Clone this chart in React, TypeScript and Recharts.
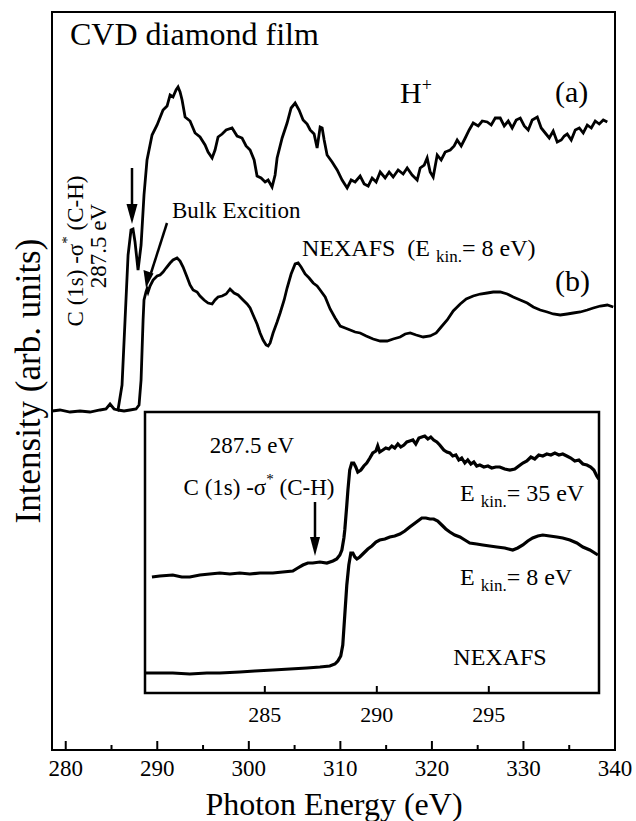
import { LineChart, Line, XAxis, YAxis, ReferenceArea } from "recharts";

// main panel, curve (a): H+ treated film
const energyA = [
  278.5, 279.37, 280.47, 281.56, 282.65, 283.75, 284.4, 284.84, 285.28, 285.71,
  286.15, 286.48, 286.81, 287.13, 287.35, 287.57, 287.9, 288.23, 288.55, 288.88,
  289.43, 289.98, 290.63, 291.07, 291.4, 291.72, 292.05, 292.27, 292.49, 292.71,
  293.04, 293.58, 294.13, 294.67, 295.22, 295.55, 295.99, 296.31, 296.64, 297.08,
  297.52, 298.17, 298.72, 299.26, 299.7, 300.14, 300.58, 300.9, 301.34, 301.78,
  302.11, 302.54, 302.87, 303.09, 303.64, 304.18, 304.62, 305.06, 305.49, 305.93,
  306.37, 306.7, 307.13, 307.46, 307.79, 308.01, 308.23, 308.55, 309.1, 309.65,
  310.19, 310.74, 311.18, 311.61, 312.16, 312.6, 313.04, 313.47, 313.91, 314.35,
  314.89, 315.33, 315.77, 316.31, 316.86, 317.3, 317.84, 318.39, 318.72, 319.16,
  319.48, 319.81, 320.14, 320.58, 321.01, 321.45, 322.0, 322.43, 322.76, 323.2,
  323.64, 324.07, 324.51, 325.06, 325.5, 326.04, 326.48, 326.92, 327.46, 327.9,
  328.34, 328.77, 329.21, 329.65, 330.09, 330.52, 330.96, 331.51, 331.94, 332.38,
  332.82, 333.25, 333.69, 334.13, 334.46, 334.78, 335.22, 335.66, 336.1, 336.53,
  336.97, 337.41, 337.84, 338.28, 338.72, 339.16,
];
const intensityA = [
  3.39, 3.4, 3.38, 3.39, 3.38, 3.4, 3.41, 3.46, 3.41, 3.4,
  3.65, 4.3, 4.95, 5.2, 5.21, 5.08, 4.8, 5.05, 5.55, 5.9,
  6.15, 6.25, 6.4, 6.44, 6.55, 6.53, 6.6, 6.63, 6.58, 6.5,
  6.33, 6.29, 6.17, 6.13, 6.05, 5.98, 5.92, 6.0, 6.13, 6.16,
  6.2, 6.22, 6.14, 6.12, 6.04, 6.0, 5.9, 5.74, 5.72, 5.68,
  5.7, 5.63, 5.75, 5.92, 6.12, 6.27, 6.42, 6.47, 6.4, 6.3,
  6.26, 6.2, 6.16, 6.02, 6.23, 6.22, 6.1, 5.95, 5.88, 5.8,
  5.7, 5.62, 5.7, 5.68, 5.74, 5.66, 5.64, 5.72, 5.68, 5.78,
  5.72, 5.78, 5.73, 5.8, 5.76, 5.82, 5.75, 5.7, 5.82, 5.85,
  5.92, 5.78, 5.73, 5.95, 5.9, 5.98, 6.0, 6.04, 6.1, 6.04,
  6.12, 6.2, 6.27, 6.24, 6.29, 6.28, 6.25, 6.32, 6.32, 6.24,
  6.29, 6.22, 6.3, 6.32, 6.24, 6.2, 6.3, 6.33, 6.22, 6.17,
  6.12, 6.19, 6.08, 6.1, 6.14, 6.16, 6.1, 6.2, 6.22, 6.17,
  6.25, 6.22, 6.29, 6.26, 6.3, 6.28,
];

// main panel, curve (b): NEXAFS, E kin = 8 eV
const energyB = [
  285.71, 286.37, 287.02, 287.68, 288.01, 288.23, 288.34, 288.45, 288.55, 288.77,
  288.88, 288.99, 289.21, 289.54, 289.98, 290.3, 290.63, 290.96, 291.4, 291.72,
  292.16, 292.49, 292.82, 293.25, 293.58, 293.91, 294.35, 294.67, 295.11, 295.55,
  295.99, 296.31, 296.64, 297.08, 297.52, 297.95, 298.39, 298.83, 299.37, 299.81,
  300.14, 300.47, 300.9, 301.23, 301.56, 301.89, 302.11, 302.33, 302.65, 303.09,
  303.42, 303.86, 304.18, 304.62, 305.06, 305.39, 305.71, 306.15, 306.59, 307.03,
  307.46, 307.79, 308.34, 308.88, 309.43, 309.98, 310.52, 311.07, 311.61, 312.16,
  312.82, 313.58, 314.35, 315.11, 315.77, 316.53, 317.08, 317.63, 318.28, 319.05,
  319.81, 320.47, 321.01, 321.67, 322.33, 323.09, 323.75, 324.51, 325.28, 326.04,
  326.7, 327.46, 328.23, 328.88, 329.65, 330.41, 331.07, 331.83, 332.6, 333.25,
  334.02, 334.78, 335.44, 336.21, 336.97, 337.63, 338.39, 339.16, 339.81,
];
const intensityB = [
  3.4, 3.39, 3.4, 3.41, 3.45, 3.7, 4.0, 4.3, 4.5, 4.58,
  4.61, 4.58, 4.64, 4.7, 4.74, 4.75, 4.78, 4.82, 4.87, 4.9,
  4.92, 4.89, 4.83, 4.73, 4.65, 4.6, 4.58, 4.54, 4.5, 4.47,
  4.46, 4.5, 4.53, 4.54, 4.56, 4.61, 4.57, 4.55, 4.5, 4.46,
  4.42, 4.35, 4.26, 4.17, 4.1, 4.05, 4.04, 4.07, 4.17, 4.28,
  4.37, 4.5, 4.62, 4.76, 4.86, 4.87, 4.83, 4.76, 4.72, 4.67,
  4.64, 4.6, 4.53, 4.41, 4.32, 4.24, 4.22, 4.2, 4.18, 4.17,
  4.14, 4.11, 4.09, 4.09, 4.11, 4.13, 4.16, 4.17, 4.15, 4.13,
  4.14, 4.17, 4.23, 4.3, 4.39, 4.46, 4.51, 4.54, 4.56, 4.57,
  4.58, 4.58, 4.56, 4.53, 4.5, 4.47, 4.43, 4.4, 4.38, 4.36,
  4.35, 4.36, 4.37, 4.38, 4.4, 4.42, 4.44, 4.45, 4.43,
];

// inset, E kin = 35 eV
const energyHi = [
  279.96, 280.31, 280.89, 281.29, 281.65, 282.1, 282.54, 282.99, 283.44, 283.88,
  284.33, 284.78, 285.36, 285.8, 286.25, 286.47, 286.7, 286.92, 287.14, 287.46,
  287.77, 288.04, 288.21, 288.35, 288.44, 288.53, 288.57, 288.66, 288.71, 288.79,
  288.88, 288.97, 289.06, 289.15, 289.29, 289.42, 289.55, 289.69, 289.82, 289.96,
  290.04, 290.13, 290.27, 290.4, 290.54, 290.67, 290.8, 290.94, 291.07, 291.21,
  291.34, 291.47, 291.61, 291.74, 291.88, 292.01, 292.14, 292.28, 292.41, 292.54,
  292.68, 292.81, 292.99, 293.13, 293.26, 293.39, 293.53, 293.66, 293.79, 293.93,
  294.06, 294.2, 294.33, 294.46, 294.6, 294.78, 294.96, 295.13, 295.31, 295.49,
  295.71, 295.94, 296.16, 296.34, 296.52, 296.7, 296.88, 297.05, 297.23, 297.41,
  297.59, 297.77, 297.95, 298.13, 298.3, 298.48, 298.66, 298.84, 299.02, 299.2,
  299.38, 299.55, 299.69, 299.82, 299.91,
];
const intensityHi = [
  11.6, 11.7, 11.8, 11.6, 11.6, 11.8, 11.9, 12.0, 11.9, 12.0,
  11.9, 12.0, 12.0, 12.1, 12.2, 12.5, 12.8, 13.0, 13.0, 13.1,
  13.0, 13.2, 13.4, 13.8, 14.3, 15.5, 16.3, 18.8, 20.3, 22.3,
  23.0, 23.0, 22.6, 22.1, 22.3, 22.7, 23.0, 23.5, 24.0, 24.2,
  24.7, 24.1, 24.3, 24.5, 24.4, 24.7, 24.5, 24.9, 24.6, 24.8,
  25.1, 25.2, 25.3, 24.9, 25.5, 25.6, 25.7, 25.4, 25.6, 25.3,
  25.1, 24.8, 24.3, 24.1, 24.0, 23.7, 23.8, 23.3, 23.5, 23.0,
  23.3, 22.9, 23.1, 22.7, 22.8, 22.6, 22.7, 22.5, 22.6, 22.6,
  22.4, 22.3, 22.4, 22.7, 23.0, 23.2, 23.6, 23.4, 23.8, 23.7,
  23.9, 23.8, 24.0, 23.8, 23.9, 23.7, 23.5, 23.2, 23.3, 22.9,
  22.8, 22.6, 22.3, 21.7, 21.4,
];

// inset, E kin = 8 eV
const energyLo = [
  279.65, 280.31, 280.89, 281.65, 282.41, 282.99, 283.88, 284.55, 285.36, 286.12,
  286.88, 287.46, 287.9, 288.13, 288.26, 288.39, 288.48, 288.57, 288.66, 288.75,
  288.84, 288.93, 289.02, 289.11, 289.24, 289.42, 289.6, 289.78, 289.96, 290.13,
  290.36, 290.58, 290.8, 291.03, 291.25, 291.47, 291.65, 291.83, 292.01, 292.19,
  292.37, 292.54, 292.72, 292.9, 293.08, 293.26, 293.48, 293.71, 293.93, 294.15,
  294.46, 294.73, 295.04, 295.36, 295.71, 296.07, 296.29, 296.52, 296.74, 296.96,
  297.19, 297.41, 297.72, 298.04, 298.3, 298.62, 298.93, 299.2, 299.51, 299.87,
];
const intensityLo = [
  2.0, 2.0, 2.0, 1.9, 2.0, 2.0, 2.1, 2.2, 2.3, 2.4,
  2.5, 2.6, 2.7, 2.9, 3.2, 3.7, 4.8, 7.8, 10.8, 12.8,
  14.0, 14.0, 13.6, 13.4, 13.6, 14.0, 14.4, 14.7, 15.1, 15.3,
  15.4, 15.6, 15.7, 15.9, 16.2, 16.6, 16.9, 17.2, 17.5, 17.5,
  17.4, 17.4, 17.2, 16.8, 16.4, 16.1, 15.8, 15.6, 15.3, 15.0,
  14.9, 14.8, 14.7, 14.6, 14.5, 14.3, 14.5, 14.8, 15.2, 15.5,
  15.7, 15.8, 15.7, 15.6, 15.5, 15.3, 15.0, 14.6, 14.3, 13.8,
];

const mainMajorTicks = [280, 290, 300, 310, 320, 330, 340];
const mainMinorTicks = [285, 295, 305, 315, 325, 335];
const insetTicks = [285, 290, 295];

const serif = "'Liberation Serif', 'Times New Roman', Times, serif";
const nbsp = "\u00a0";

const rows = (xs: number[], ys: number[]) => xs.map((e, i) => ({ e, v: ys[i] }));

function MainTick(props: any) {
  const { x, y, payload } = props;
  const v = payload.value;
  const major = v % 10 === 0;
  return (
    <g>
      <line x1={x} x2={x} y1={y} y2={y - (major ? 9 : 5)} stroke="#000" strokeWidth={2} />
      {major ? (
        <text x={x} y={y + 18} textAnchor="middle" dominantBaseline="central" fontFamily={serif} fontSize={23} fill="#000">
          {v}
        </text>
      ) : null}
    </g>
  );
}

function InsetTick(props: any) {
  const { x, y, payload } = props;
  return (
    <g>
      <line x1={x} x2={x} y1={y} y2={y - 7} stroke="#000" strokeWidth={2} />
      <text x={x} y={y + 21} textAnchor="middle" dominantBaseline="central" fontFamily={serif} fontSize={22} fill="#000">
        {payload.value}
      </text>
    </g>
  );
}

export default function App() {
  const mainTicks = [...mainMajorTicks, ...mainMinorTicks].sort((a, b) => a - b);
  return (
    <div style={{ position: "absolute", left: 0, top: 0, width: 636, height: 821, background: "#fff" }}>
      <div style={{ position: "absolute", left: 0, top: 0 }}>
        <LineChart width={636} height={821} margin={{ top: 12, right: 21, bottom: 0, left: 52 }}>
          <XAxis
            dataKey="e"
            type="number"
            domain={[278.5, 340]}
            allowDataOverflow
            ticks={mainTicks}
            interval={0}
            height={71}
            axisLine={false}
            tickLine={false}
            tickSize={0}
            tickMargin={0}
            tick={(p: any) => <MainTick {...p} />}
          />
          <YAxis type="number" domain={[0, 7.38]} allowDataOverflow hide />
          <ReferenceArea x1={278.5} x2={340} y1={0} y2={7.38} fill="none" stroke="#000" strokeWidth={2} />
          <Line data={rows(energyA, intensityA)} dataKey="v" stroke="#000" strokeWidth={2.8} dot={false} isAnimationActive={false} />
          <Line data={rows(energyB, intensityB)} dataKey="v" stroke="#000" strokeWidth={2.8} dot={false} isAnimationActive={false} />
        </LineChart>
      </div>
      <div style={{ position: "absolute", left: 140, top: 407 }}>
        <LineChart width={464} height={326} margin={{ top: 5, right: 5, bottom: 0, left: 5 }}>
          <XAxis
            dataKey="e"
            type="number"
            domain={[279.65, 299.92]}
            allowDataOverflow
            ticks={insetTicks}
            interval={0}
            height={40}
            axisLine={false}
            tickLine={false}
            tickSize={0}
            tickMargin={0}
            tick={(p: any) => <InsetTick {...p} />}
          />
          <YAxis type="number" domain={[0, 28.1]} allowDataOverflow hide />
          <ReferenceArea x1={279.65} x2={299.92} y1={0} y2={28.1} fill="none" stroke="#000" strokeWidth={2.5} />
          <Line data={rows(energyHi, intensityHi)} dataKey="v" stroke="#000" strokeWidth={3.2} dot={false} isAnimationActive={false} />
          <Line data={rows(energyLo, intensityLo)} dataKey="v" stroke="#000" strokeWidth={3.2} dot={false} isAnimationActive={false} />
        </LineChart>
      </div>
      <svg
        width={636}
        height={821}
        style={{ position: "absolute", left: 0, top: 0, pointerEvents: "none" }}
        fontFamily={serif}
        fill="#000"
      >
        <text x={70} y={45} fontSize={32}>CVD diamond film</text>
        <text x={400} y={103} fontSize={30}>
          H<tspan dy={-12} fontSize={18}>+</tspan>
        </text>
        <text x={555} y={102} fontSize={30}>(a)</text>
        <text x={555} y={291} fontSize={30}>(b)</text>
        <text x={302} y={256} fontSize={24}>
          {`NEXAFS ${nbsp}(E `}<tspan fontSize={17} dy={6}>kin.</tspan>
          <tspan dy={-6}>= 8 eV)</tspan>
        </text>
        <text x={172} y={218} fontSize={23}>Bulk Excition</text>
        <text transform="translate(75,251) rotate(-90)" textAnchor="middle" dominantBaseline="central" fontSize={23}>
          C (1s) -σ<tspan dy={-8} fontSize={15}>*</tspan>
          <tspan dy={8}> (C-H)</tspan>
        </text>
        <text transform="translate(98,246) rotate(-90)" textAnchor="middle" dominantBaseline="central" fontSize={23}>
          287.5 eV
        </text>
        <line x1={132} y1={168} x2={132} y2={208} stroke="#000" strokeWidth={2.5} />
        <polygon points="126.5,204 137.5,204 132,224" fill="#000" />
        <line x1={167} y1={223} x2={151} y2={273} stroke="#000" strokeWidth={2.5} />
        <polygon points="143.5,270 153.5,273.5 146,288" fill="#000" />

        <text x={252} y={445} textAnchor="middle" dominantBaseline="central" fontSize={23}>287.5 eV</text>
        <text x={259} y={487} textAnchor="middle" dominantBaseline="central" fontSize={23}>
          C (1s) -σ<tspan dy={-8} fontSize={15}>*</tspan>
          <tspan dy={8}> (C-H)</tspan>
        </text>
        <line x1={315} y1={502} x2={315} y2={540} stroke="#000" strokeWidth={2.5} />
        <polygon points="310,537 320,537 315,556" fill="#000" />
        <text x={460} y={501} fontSize={24}>
          E <tspan fontSize={17} dy={6}>kin.</tspan>
          <tspan dy={-6}>= 35 eV</tspan>
        </text>
        <text x={460} y={585} fontSize={24}>
          E <tspan fontSize={17} dy={6}>kin.</tspan>
          <tspan dy={-6}>= 8 eV</tspan>
        </text>
        <text x={500} y={665} textAnchor="middle" fontSize={24}>NEXAFS</text>

        <text x={334} y={804} textAnchor="middle" dominantBaseline="central" fontSize={32}>Photon Energy (eV)</text>
        <text transform="translate(28,381) rotate(-90)" textAnchor="middle" dominantBaseline="central" fontSize={35}>
          Intensity (arb. units)
        </text>
      </svg>
    </div>
  );
}
